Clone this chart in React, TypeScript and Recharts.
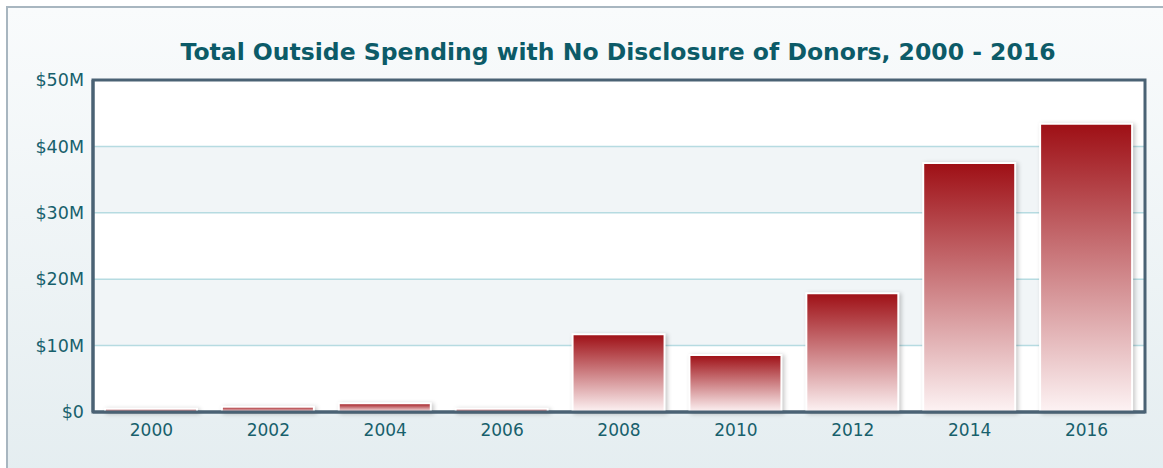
import { BarChart, Bar, XAxis, YAxis, CartesianGrid, ReferenceArea } from "recharts";

const years = ["2000", "2002", "2004", "2006", "2008", "2010", "2012", "2014", "2016"];
const spending = [0.5, 0.8, 1.3, 0.5, 11.7, 8.6, 17.9, 37.5, 43.4]; // $ millions
const yTicks = [0, 10, 20, 30, 40, 50];

const data = years.map((year, i) => ({ year, value: spending[i] }));

const FONT = "'DejaVu Sans', Verdana, sans-serif";
const TICK_COLOR = "#17606c";

export default function App() {
  return (
    <div style={{ position: "absolute", left: 0, top: 0, width: 1163, height: 468, overflow: "hidden", background: "#fff" }}>
      <div
        style={{
          position: "absolute",
          left: 6,
          top: 6,
          width: 1180,
          height: 480,
          border: "2px solid #a8b6c0",
          background: "linear-gradient(#f9fbfc, #e4edf0)",
        }}
      />
      <div
        style={{
          position: "absolute",
          left: 0,
          top: 38,
          width: 1236,
          textAlign: "center",
          fontFamily: FONT,
          fontWeight: "bold",
          fontSize: 23.5,
          color: "#0c5b68",
        }}
      >
        Total Outside Spending with No Disclosure of Donors, 2000 - 2016
      </div>
      <div style={{ position: "absolute", left: 0, top: 0 }}>
        <BarChart width={1163} height={468} data={data} margin={{ top: 80, right: 18, bottom: 26, left: 0 }}>
          <defs>
            <linearGradient id="barGrad" x1="0" y1="0" x2="0" y2="1">
              <stop offset="0%" stopColor="#9e0f15" />
              <stop offset="100%" stopColor="#fdf3f4" />
            </linearGradient>
          </defs>
          {/* alternating bands from the top: white, light, white, light, white */}
          <CartesianGrid
            vertical={false}
            stroke="#b6dbe1"
            strokeWidth={1.5}
            fillOpacity={1}
            horizontalFill={["#ffffff", "#f1f5f7"]}
          />
          <XAxis
            dataKey="year"
            height={30}
            tickLine={false}
            axisLine={{ stroke: "#4a6274", strokeWidth: 3 }}
            tickMargin={6}
            tick={{ fill: TICK_COLOR, fontSize: 17, fontFamily: FONT }}
          />
          <YAxis
            width={93}
            domain={[0, 50]}
            ticks={yTicks}
            tickLine={false}
            axisLine={{ stroke: "#4a6274", strokeWidth: 3 }}
            tickMargin={3}
            tickFormatter={(v: number) => (v === 0 ? "$0" : `$${v}M`)}
            tick={{ fill: TICK_COLOR, fontSize: 17.5, fontFamily: FONT }}
          />
          <Bar
            dataKey="value"
            barSize={92}
            fill="url(#barGrad)"
            stroke="#ffffff"
            strokeWidth={2}
            isAnimationActive={false}
            style={{ filter: "drop-shadow(2px 1px 2px rgba(0,0,0,0.22))" }}
          />
          <ReferenceArea y1={0} y2={50} fill="none" stroke="#4a6274" strokeWidth={3} />
        </BarChart>
      </div>
    </div>
  );
}
